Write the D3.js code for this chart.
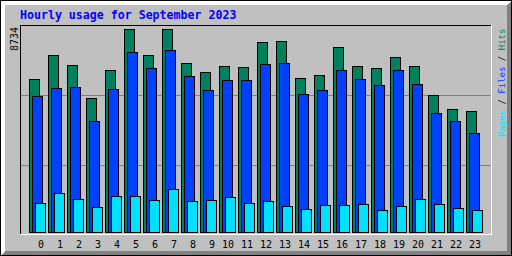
<!DOCTYPE html>
<meta charset="utf-8">
<script src="https://d3js.org/d3.v7.min.js"></script>
<style>
body { margin: 0; background: #fff; }
svg { display: block; }
</style>
<div id="chart"></div>
<script>
const title = "Hourly usage for September 2023";
const hourLabels = ["0","1","2","3","4","5","6","7","8","9","10","11","12","13","14","15","16","17","18","19","20","21","22","23"];
const hits  = [6583,7615,7185,5765,6970,8720,7615,8734,7271,6884,7142,7099,8175,8218,6626,6755,7960,7142,7056,7529,7142,5894,5292,5206];
const files = [5851,6196,6239,4776,6153,7745,7056,7831,6712,6110,6540,6540,7228,7271,5937,6110,6970,6583,6325,6970,6368,5120,4776,4259];
const pages = [1248,1678,1420,1076,1549,1549,1377,1850,1334,1377,1506,1248,1334,1119,990,1162,1162,1205,947,1119,1420,1205,1033,947];
const maxLabel = "8734";

const W = 512, H = 256;
const grey = "#c0c0c0", dkgrey = "#808080";
const series = [
    {name: "Hits",  values: hits,  color: "#00805c", off: 0},
    {name: "Files", values: files, color: "#0040ff", off: 3},
    {name: "Pages", values: pages, color: "#00e0ff", off: 6}
];

const svg = d3.select("#chart").append("svg")
    .attr("width", W).attr("height", H)
    .attr("shape-rendering", "crispEdges");

// background + outer bevel
svg.append("rect").attr("width", W).attr("height", H).attr("fill", grey);
svg.append("polygon")
    .attr("points", `1,1 ${W-1},1 ${W-5},5 5,5 5,${H-5} 1,${H-1}`)
    .attr("fill", "#fff");
svg.append("polygon")
    .attr("points", `${W-1},1 ${W-1},${H-1} 1,${H-1} 5,${H-5} ${W-5},${H-5} ${W-5},5`)
    .attr("fill", dkgrey);
svg.append("rect").attr("x", 0.5).attr("y", 0.5).attr("width", W-1).attr("height", H-1)
    .attr("fill", "none").attr("stroke", "#000");

// inner plot box
const px0 = 20, py0 = 25, px1 = 491, py1 = 234;
svg.append("line").attr("x1", px0).attr("x2", px1).attr("y1", py0+0.5).attr("y2", py0+0.5).attr("stroke", "#000");
svg.append("line").attr("x1", px0+0.5).attr("x2", px0+0.5).attr("y1", py0).attr("y2", py1).attr("stroke", "#000");
svg.append("line").attr("x1", px1+0.5).attr("x2", px1+0.5).attr("y1", py0).attr("y2", py1+1).attr("stroke", "#fff");
svg.append("line").attr("x1", px0).attr("x2", px1+1).attr("y1", py1+0.5).attr("y2", py1+0.5).attr("stroke", "#fff");

// grid lines at thirds of the box
[1, 2].forEach(k => {
    const gy = py0 + k * 70 + 0.5;
    svg.append("line").attr("x1", px0+1).attr("x2", px1)
        .attr("y1", gy).attr("y2", gy).attr("stroke", dkgrey);
});

const x = d3.scaleBand().domain(hourLabels).range([29, 29 + 24*19]);
const y = d3.scaleLinear().domain([0, +maxLabel]).range([232, 29]);

series.forEach(s => {
    svg.append("g").selectAll("rect")
        .data(s.values)
        .join("rect")
        .attr("x", (d, i) => x(hourLabels[i]) + s.off + 0.5)
        .attr("y", d => Math.round(y(d)) + 0.5)
        .attr("width", 10)
        .attr("height", d => 232 - Math.round(y(d)))
        .attr("fill", s.color)
        .attr("stroke", "#000");
});

// hour labels
svg.append("g").selectAll("text")
    .data(hourLabels)
    .join("text")
    .attr("x", d => x(d) + (d.length < 2 ? 12 : 9))
    .attr("y", 248)
    .attr("text-anchor", "middle")
    .attr("font-family", "DejaVu Sans Mono")
    .attr("font-size", "10px")
    .attr("fill", "#000")
    .text(d => d);

// title
svg.append("text")
    .attr("x", 20).attr("y", 19)
    .attr("font-family", "DejaVu Sans Mono")
    .attr("font-weight", "bold")
    .attr("font-size", "11.6px")
    .attr("fill", "#0000ff")
    .text(title);

// max value label
svg.append("text")
    .attr("transform", "translate(18,51) rotate(-90)")
    .attr("font-family", "DejaVu Sans Mono")
    .attr("font-size", "10px")
    .attr("fill", "#000")
    .text(maxLabel);

// legend on the right
const legend = svg.append("text")
    .attr("transform", "translate(505,137) rotate(-90)")
    .attr("font-family", "DejaVu Sans Mono")
    .attr("font-size", "9px");
const parts = [["Pages", "#00e0ff"], [" / ", "#000"], ["Files", "#0040ff"], [" / ", "#000"], ["Hits", "#00805c"]];
parts.forEach(p => legend.append("tspan").attr("fill", p[1]).text(p[0]));
</script>
